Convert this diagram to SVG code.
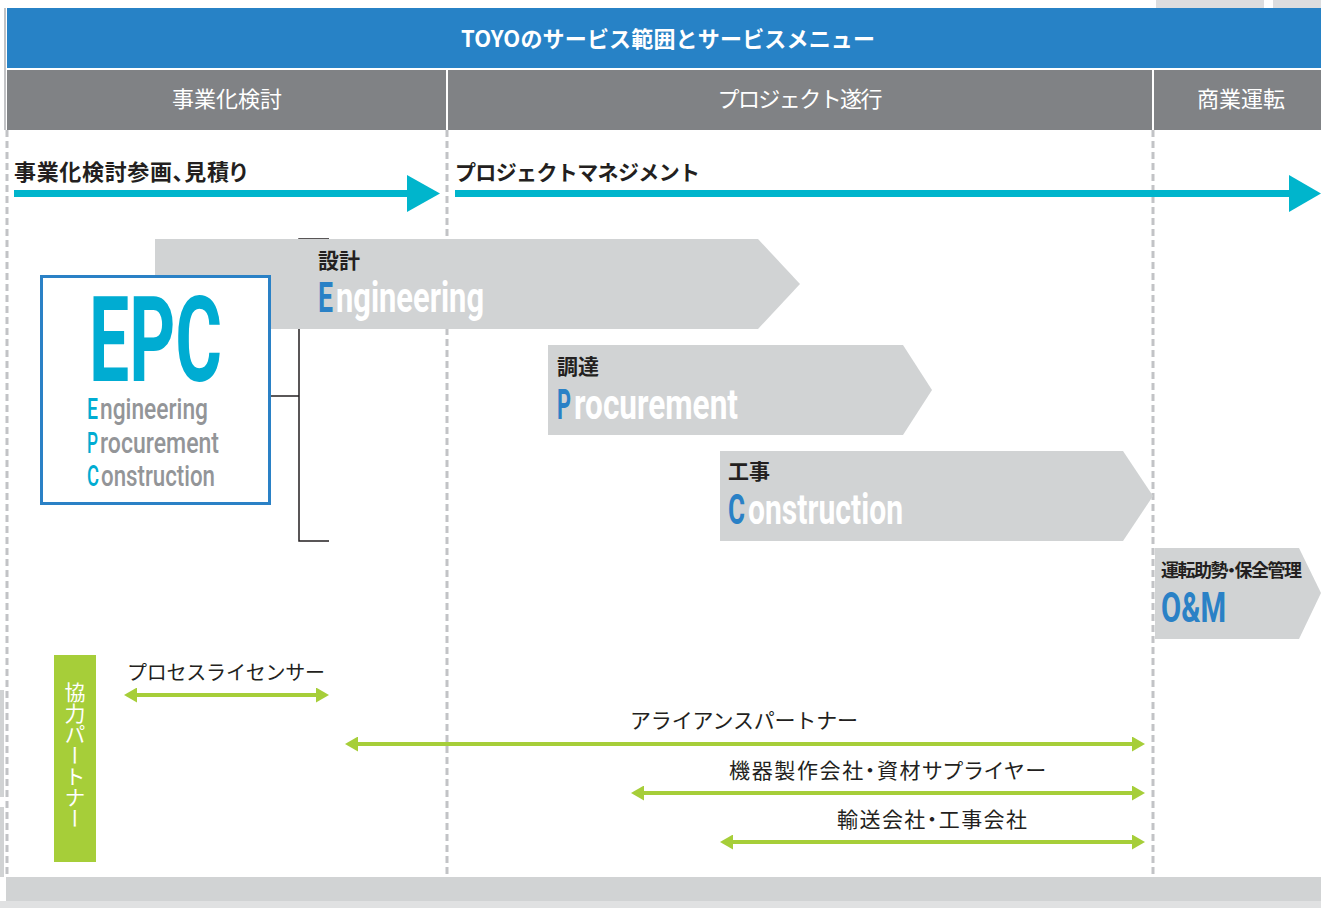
<svg xmlns="http://www.w3.org/2000/svg" width="1321" height="908" viewBox="0 0 1321 908">
<defs>
<style>
.jp{font-family:"Noto Sans CJK JP","Noto Sans CJK SC",sans-serif;}
.pt{font-feature-settings:"palt";}
.en{font-family:Roboto,"Liberation Sans",sans-serif;font-weight:bold;}
.ens{font-family:Roboto,"Liberation Sans",sans-serif;font-weight:500;}
.dark{fill:#231f20;}
.wh{fill:#ffffff;}
.chev{fill:#d1d3d4;}
.dash{stroke:#c2c3c6;stroke-width:3;stroke-dasharray:7 4;fill:none;}
.cy{fill:#00b5cc;}
.gl{stroke:#a6ce39;stroke-width:4;fill:none;}
.br{stroke:#231f20;stroke-width:1.5;fill:none;}
.blue{fill:#2a81c6;}
.cyt{fill:#00acd2;}
.gry{fill:#939598;}
</style>
<marker id="gh" viewBox="0 0 13 15" refX="5" refY="7.5" markerWidth="13" markerHeight="15" markerUnits="userSpaceOnUse" orient="auto-start-reverse">
<path d="M0,0 L13,7.5 L0,15 z" fill="#a6ce39"/>
</marker>
</defs>
<rect width="1321" height="908" fill="#ffffff"/>
<g id="background">
<rect x="1156" y="0" width="108" height="8" fill="#dcdddf"/>
<rect x="1273" y="0" width="48" height="8" fill="#dcdddf"/>
<rect x="0" y="690" width="4" height="107" fill="#d1d3d4"/>
<rect x="0" y="807" width="4" height="70" fill="#d1d3d4"/>
<rect x="6" y="877" width="1315" height="24" fill="#d1d3d4"/>
<rect x="0" y="901" width="1321" height="7" fill="#e0e1e2"/>
<rect x="4" y="8" width="2" height="122" fill="#c2c3c6"/>
</g>
<g id="header">
<rect x="7" y="8" width="1314" height="60" fill="#2782c6"/>
<text x="668" y="47" text-anchor="middle" class="jp wh" font-size="22" font-weight="bold" textLength="414">TOYOのサービス範囲とサービスメニュー</text>
</g>
<g id="col-feasibility">
<rect x="7" y="70" width="439" height="60" fill="#808285"/>
<text x="227" y="107" text-anchor="middle" class="jp wh" font-size="22">事業化検討</text>
</g>
<g id="col-project">
<rect x="448" y="70" width="704" height="60" fill="#808285"/>
<text x="800" y="107" text-anchor="middle" class="jp wh" font-size="22" textLength="165">プロジェクト遂行</text>
</g>
<g id="col-operation">
<rect x="1154" y="70" width="167" height="60" fill="#808285"/>
<text x="1241" y="107" text-anchor="middle" class="jp wh" font-size="22">商業運転</text>
</g>
<g id="dividers">
<line x1="7" y1="130" x2="7" y2="877" class="dash"/>
<line x1="447" y1="130" x2="447" y2="877" class="dash"/>
<line x1="1153" y1="130" x2="1153" y2="877" class="dash"/>
</g>
<g id="connectors">
<rect x="14" y="190" width="396" height="7" class="cy"/>
<polygon points="407,175 440,193.5 407,212" class="cy"/>
<rect x="455" y="190" width="837" height="7" class="cy"/>
<polygon points="1289,175 1321,193.5 1289,212" class="cy"/>
<polyline points="329,239 299,239 299,541 329,541" class="br"/>
<line x1="270" y1="396" x2="299" y2="396" class="br"/>
<line x1="132" y1="695" x2="321" y2="695" class="gl" marker-start="url(#gh)" marker-end="url(#gh)"/>
<line x1="353" y1="744" x2="1137" y2="744" class="gl" marker-start="url(#gh)" marker-end="url(#gh)"/>
<line x1="639" y1="793" x2="1137" y2="793" class="gl" marker-start="url(#gh)" marker-end="url(#gh)"/>
<line x1="728" y1="842" x2="1137" y2="842" class="gl" marker-start="url(#gh)" marker-end="url(#gh)"/>
</g>
<g id="label-feasibility">
<text x="14" y="180" class="jp pt dark" font-size="22" font-weight="bold" textLength="233">事業化検討参画、見積り</text>
</g>
<g id="label-pm">
<text x="455" y="180" class="jp dark" font-size="21" font-weight="bold" textLength="245">プロジェクトマネジメント</text>
</g>
<g id="engineering">
<polygon points="155,239 758,239 800,284 758,329 155,329" class="chev"/>
<text x="318" y="268" class="jp dark" font-size="21" font-weight="bold">設計</text>
<text x="318" y="312" class="en blue" font-size="43" textLength="15" lengthAdjust="spacingAndGlyphs">E</text>
<text x="336" y="312" class="en wh" font-size="43" textLength="148" lengthAdjust="spacingAndGlyphs">ngineering</text>
</g>
<g id="procurement">
<polygon points="548,345 903,345 932,390 903,435 548,435" class="chev"/>
<text x="557" y="374" class="jp dark" font-size="21" font-weight="bold">調達</text>
<text x="557" y="419" class="en blue" font-size="42" textLength="14" lengthAdjust="spacingAndGlyphs">P</text>
<text x="574" y="419" class="en wh" font-size="42" textLength="164" lengthAdjust="spacingAndGlyphs">rocurement</text>
</g>
<g id="construction">
<polygon points="720,451 1123,451 1153,496 1123,541 720,541" class="chev"/>
<text x="728" y="479" class="jp dark" font-size="21" font-weight="bold">工事</text>
<text x="728" y="524" class="en blue" font-size="42" textLength="17" lengthAdjust="spacingAndGlyphs">C</text>
<text x="748" y="524" class="en wh" font-size="42" textLength="155" lengthAdjust="spacingAndGlyphs">onstruction</text>
</g>
<g id="om">
<polygon points="1155,548 1299,548 1321,593 1299,639 1155,639" class="chev"/>
<text x="1161" y="577" class="jp pt dark" font-size="18" font-weight="bold" textLength="141">運転助勢・保全管理</text>
<text x="1161" y="622" class="en blue" font-size="42" textLength="65" lengthAdjust="spacingAndGlyphs">O&amp;M</text>
</g>
<g id="epc">
<rect x="41.5" y="276.5" width="228" height="227" fill="#ffffff" stroke="#2a81c6" stroke-width="3"/>
<text x="89" y="381" class="en cyt" font-size="119" textLength="133" lengthAdjust="spacingAndGlyphs">EPC</text>
<text x="87" y="419" class="ens cyt" font-size="30" textLength="11" lengthAdjust="spacingAndGlyphs">E</text>
<text x="100" y="419" class="ens gry" font-size="30" textLength="108" lengthAdjust="spacingAndGlyphs">ngineering</text>
<text x="87" y="453" class="ens cyt" font-size="30" textLength="11" lengthAdjust="spacingAndGlyphs">P</text>
<text x="100" y="453" class="ens gry" font-size="30" textLength="119" lengthAdjust="spacingAndGlyphs">rocurement</text>
<text x="87" y="486" class="ens cyt" font-size="30" textLength="12" lengthAdjust="spacingAndGlyphs">C</text>
<text x="101" y="486" class="ens gry" font-size="30" textLength="114" lengthAdjust="spacingAndGlyphs">onstruction</text>
</g>
<g id="partners">
<rect x="54" y="655" width="42" height="207" fill="#a6ce39"/>
<text x="75" y="682" class="jp wh" font-size="21" style="writing-mode:vertical-rl">協力パートナー</text>
</g>
<g id="partner-labels">
<text x="127" y="680" class="jp dark" font-size="20" textLength="198">プロセスライセンサー</text>
<text x="630" y="728" class="jp dark" font-size="21" textLength="228">アライアンスパートナー</text>
<text x="729" y="778" class="jp pt dark" font-size="21" textLength="317">機器製作会社・資材サプライヤー</text>
<text x="837" y="827" class="jp pt dark" font-size="21" textLength="190">輸送会社・工事会社</text>
</g>
</svg>
